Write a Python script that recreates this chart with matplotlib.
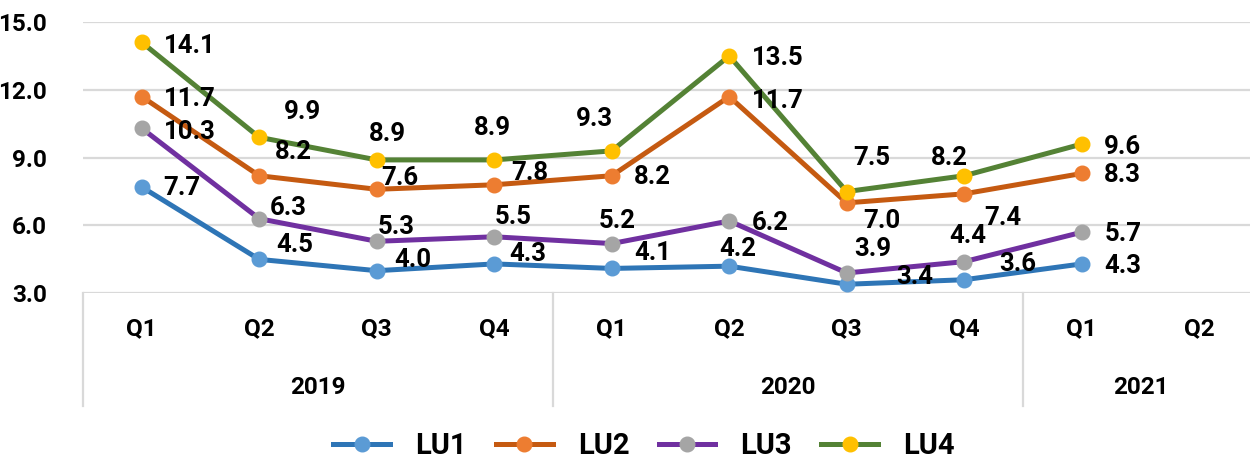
import matplotlib
matplotlib.use("Agg")
import matplotlib.pyplot as plt
from matplotlib.lines import Line2D
from matplotlib.transforms import blended_transform_factory

plt.rcParams['font.family'] = ['Roboto', 'DejaVu Sans']
plt.rcParams['font.weight'] = 'bold'

quarters = ["Q1", "Q2", "Q3", "Q4", "Q1", "Q2", "Q3", "Q4", "Q1", "Q2"]
years = ["2019", "2020", "2021"]
year_spans = [(0, 3), (4, 7), (8, 9)]

series_names = ["LU1", "LU2", "LU3", "LU4"]
lu1 = [7.7, 4.5, 4.0, 4.3, 4.1, 4.2, 3.4, 3.6, 4.3]
lu2 = [11.7, 8.2, 7.6, 7.8, 8.2, 11.7, 7.0, 7.4, 8.3]
lu3 = [10.3, 6.3, 5.3, 5.5, 5.2, 6.2, 3.9, 4.4, 5.7]
lu4 = [14.1, 9.9, 8.9, 8.9, 9.3, 13.5, 7.5, 8.2, 9.6]
series = [lu1, lu2, lu3, lu4]

line_colors = ["#2E75B6", "#C55A11", "#7030A0", "#548235"]
marker_colors = ["#5B9BD5", "#ED7D31", "#A5A5A5", "#FFC000"]

# label offsets (pixels, right / down) of label centre from the point
offsets = [
    [(40, 0), (36, -15), (36, -12), (34, -11), (41, -16), (9, -18), (68, -8), (53, -17), (41, 1)],
    [(48, 1), (34, -25), (23, -12), (36, -13), (41, 0), (49, 3), (35, 17), (39, 23), (41, 1)],
    [(48, 3), (29, -12), (19, -15), (19, -21), (5, -24), (41, 1), (26, -25), (4, -27), (41, 1)],
    [(48, 3), (43, -26), (11, -27), (-2, -33), (-17, -33), (49, 1), (25, -35), (-15, -19), (41, 2)],
]

W, H = 1250, 458
fig = plt.figure(figsize=(W / 100, H / 100), dpi=100)
left_px, right_px = 83, 1258
top_px, bot_px = 22, 293.3
ax = fig.add_axes([left_px / W, 1 - bot_px / H, (right_px - left_px) / W, (bot_px - top_px) / H])

n = len(quarters)
ax.set_xlim(-0.5, n - 0.5)
ax.set_ylim(3, 15)
ax.set_yticks([3, 6, 9, 12, 15])
ax.set_yticklabels([f"{v:.1f}" for v in [3, 6, 9, 12, 15]])
ax.tick_params(axis='y', length=0, pad=26, labelsize=17.5)
ax.set_xticks([])
for s in ax.spines.values():
    s.set_visible(False)
ax.grid(axis='y', color="#D9D9D9", linewidth=1.6)
ax.set_axisbelow(True)
for lbl in ax.get_yticklabels():
    lbl.set_fontweight('bold')

for i, (vals, lc, mc) in enumerate(zip(series, line_colors, marker_colors)):
    xs = list(range(len(vals)))
    ax.plot(xs, vals, color=lc, linewidth=3.6, marker='o', markersize=10.5,
            markerfacecolor=mc, markeredgecolor=mc, zorder=3 + i, clip_on=False)
    for x, v, (dx, dy) in zip(xs, vals, offsets[i]):
        ax.annotate(f"{v:.1f}", (x, v), xytext=(dx, -dy - 1), textcoords='offset pixels',
                    ha='center', va='center', fontsize=18.5, fontweight='bold', zorder=10,
                    annotation_clip=False)

# category axis
trans = blended_transform_factory(ax.transData, fig.transFigure)
for i, q in enumerate(quarters):
    ax.text(i, 1 - 329 / H, q, transform=trans, ha='center', va='center',
            fontsize=17.5, fontweight='bold')
for yname, (a, b) in zip(years, year_spans):
    ax.text((a + b) / 2, 1 - 387 / H, yname, transform=trans, ha='center', va='center',
            fontsize=17.5, fontweight='bold')
for xsep in [-0.5, 3.5, 7.5]:
    ax.add_line(Line2D([xsep, xsep], [1 - bot_px / H, 1 - 406 / H], transform=trans,
                       color="#D9D9D9", linewidth=1.6, clip_on=False))

handles = [Line2D([], [], color=lc, linewidth=3.6, marker='o', markersize=10.5,
                  markerfacecolor=mc, markeredgecolor=mc)
           for lc, mc in zip(line_colors, marker_colors)]
fig.legend(handles, series_names, loc='center', bbox_to_anchor=(644 / W, 1 - 446 / H),
           ncol=4, frameon=False, handlelength=1.95, handletextpad=0.86,
           columnspacing=1.0, borderpad=0.1, prop={'weight': 'bold', 'size': 21})

fig.savefig("out.png", dpi=100)
